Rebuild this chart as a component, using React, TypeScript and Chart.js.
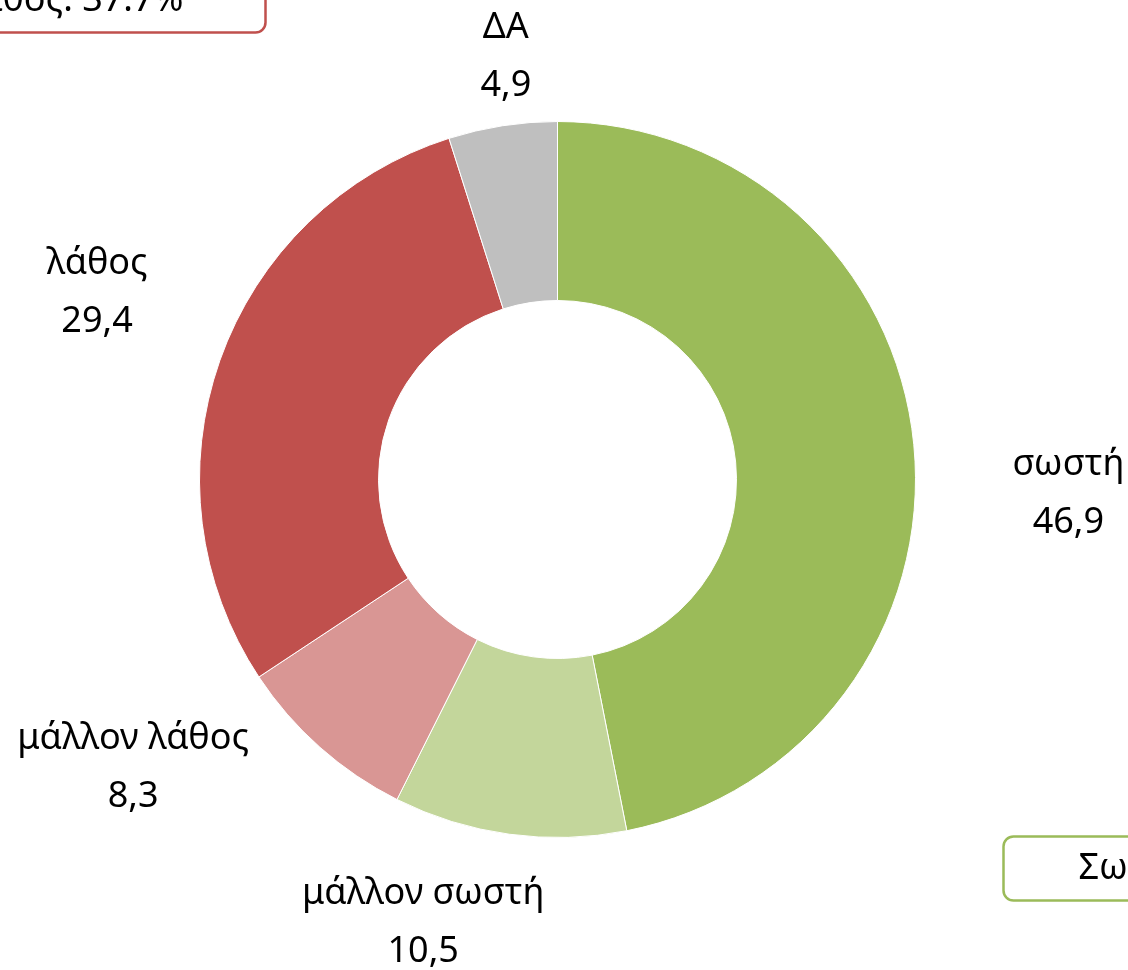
import React, { useEffect, useRef } from "react";
import { Chart, registerables } from "chart.js";

Chart.register(...registerables);

const categories: string[] = ["σωστή", "μάλλον σωστή", "μάλλον λάθος", "λάθος", "ΔΑ"];
const values: number[] = [46.9, 10.5, 8.3, 29.4, 4.9];
const colors: string[] = ["#9BBB59", "#C3D69B", "#D99694", "#C0504D", "#BFBFBF"];
const summaryLabels: string[] = ["Σωστή", "Λάθος"];
const summaryGroups: number[][] = [[0, 1], [2, 3]];

const FONT = "'Noto Sans', sans-serif";
const FONT_SIZE = 36;

// per-label pixel nudges relative to a radial anchor
const labelNudges: [number, number][] = [
  [65, 58],
  [-74, -1],
  [-127, -47],
  [-38, -38],
  [17, 20],
];

const fmt = (v: number) => v.toFixed(1).replace(".", ",");

function roundRect(ctx: CanvasRenderingContext2D, x: number, y: number, w: number, h: number, r: number) {
  ctx.beginPath();
  ctx.moveTo(x + r, y);
  ctx.lineTo(x + w - r, y);
  ctx.arcTo(x + w, y, x + w, y + r, r);
  ctx.lineTo(x + w, y + h - r);
  ctx.arcTo(x + w, y + h, x + w - r, y + h, r);
  ctx.lineTo(x + r, y + h);
  ctx.arcTo(x, y + h, x, y + h - r, r);
  ctx.lineTo(x, y + r);
  ctx.arcTo(x, y, x + r, y, r);
  ctx.closePath();
}

const labelPlugin = {
  id: "outerLabels",
  afterDatasetsDraw(chart: any) {
    const ctx: CanvasRenderingContext2D = chart.ctx;
    const meta = chart.getDatasetMeta(0);
    ctx.save();
    ctx.font = `${FONT_SIZE}px ${FONT}`;
    ctx.fillStyle = "#000";
    ctx.textAlign = "center";
    ctx.textBaseline = "middle";
    meta.data.forEach((arc: any, i: number) => {
      const { x, y, startAngle, endAngle, outerRadius } = arc.getProps(
        ["x", "y", "startAngle", "endAngle", "outerRadius"],
        true
      );
      const mid = (startAngle + endAngle) / 2;
      const r = outerRadius + 90;
      const cx = x + Math.cos(mid) * r + labelNudges[i][0];
      const cy = y + Math.sin(mid) * r + labelNudges[i][1];
      ctx.fillText(categories[i], cx, cy - 29);
      ctx.fillText(fmt(values[i]), cx, cy + 29);
    });

    // summary boxes
    const first = meta.data[0];
    const cX = first.x;
    const cY = first.y;
    const R = first.outerRadius;
    summaryGroups.forEach((grp, gi) => {
      const total = grp.reduce((s, k) => s + values[k], 0);
      const text = `${summaryLabels[gi]}: ${total.toFixed(1)}%`;
      const tw = ctx.measureText(text).width;
      const h = 64;
      let bx: number, by: number, w: number;
      let stroke: string;
      if (gi === 1) {
        w = tw + 164;
        bx = cX - R + 66 - w;
        by = cY - R - 153;
        stroke = colors[3];
      } else {
        w = tw + 150;
        bx = cX + R + 88;
        by = cY + R - 1;
        stroke = colors[0];
      }
      ctx.lineWidth = 2.5;
      ctx.strokeStyle = stroke;
      ctx.fillStyle = "#fff";
      roundRect(ctx, bx, by, w, h, 10);
      ctx.fill();
      ctx.stroke();
      ctx.fillStyle = "#000";
      ctx.textAlign = "center";
      ctx.fillText(text, bx + w / 2, by + h / 2);
    });
    ctx.restore();
  },
};

export default function App() {
  const ref = useRef<HTMLCanvasElement | null>(null);
  useEffect(() => {
    document.body.style.margin = "0";
    if (!ref.current) return;
    const chart = new Chart(ref.current, {
      type: "doughnut",
      data: {
        labels: categories,
        datasets: [
          {
            data: values,
            backgroundColor: colors,
            borderColor: "#ffffff",
            borderWidth: 1,
          },
        ],
      },
      options: {
        animation: false,
        responsive: false,
        cutout: "50%",
        layout: { padding: { left: 199, right: 212, top: 121, bottom: 132 } },
        plugins: {
          legend: { display: false },
          tooltip: { enabled: false },
        },
      },
      plugins: [labelPlugin],
    });
    return () => chart.destroy();
  }, []);
  return (
    <div style={{ position: "absolute", left: 0, top: 0, width: 1128, height: 970, background: "#fff" }}>
      <canvas ref={ref} width={1128} height={970} style={{ display: "block" }} />
    </div>
  );
}
